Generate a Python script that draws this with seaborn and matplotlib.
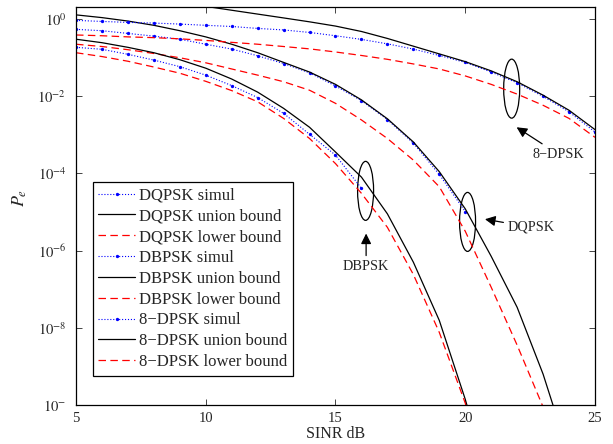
import matplotlib
matplotlib.use("Agg")
import matplotlib.pyplot as plt
from matplotlib.patches import Ellipse
from matplotlib.transforms import ScaledTranslation
from matplotlib.ticker import FixedLocator, FixedFormatter, NullLocator
import pandas as pd
import seaborn as sns

sns.set_style("ticks")
plt.rcParams["font.family"] = ["Liberation Serif", "DejaVu Serif"]
plt.rcParams["mathtext.fontset"] = "stix"

# ---- SINR grids (dB) ----
sinr_8dpsk = list(range(5, 26))
sinr_dqpsk_sim = list(range(5, 21))
sinr_dqpsk_bound = list(range(5, 25))
sinr_dbpsk_sim = list(range(5, 17))
sinr_dbpsk_bound = list(range(5, 22))

# ---- symbol error probabilities ----
pe_dqpsk_sim = [0.531, 0.490, 0.417, 0.355, 0.295, 0.219, 0.164, 0.110,
                0.0692, 0.0398, 0.0182, 0.00759, 0.00245, 6.03e-4, 9.33e-5,
                1.02e-5]
pe_dqpsk_union = [1.26, 1.07, 0.871, 0.676, 0.490, 0.339, 0.219, 0.132,
                  0.0741, 0.0417, 0.0200, 0.00794, 0.00257, 6.46e-4, 1.10e-4,
                  1.20e-5, 7.08e-7, 3.39e-8, 6.31e-10, 5.0e-12]
pe_dqpsk_lower = [0.219, 0.191, 0.158, 0.126, 0.0977, 0.0724, 0.0501, 0.0347,
                  0.0234, 0.0141, 0.00646, 0.0024, 7.94e-4, 2.19e-4, 4.47e-5,
                  3.16e-6, 1.12e-7, 3.55e-9, 8.9e-11, 1.0e-12]

pe_dbpsk_sim = [0.182, 0.162, 0.120, 0.0851, 0.0575, 0.0347, 0.0186, 0.00912,
                0.00355, 0.00102, 2.95e-4, 4.07e-5]
pe_dbpsk_union = [0.295, 0.240, 0.182, 0.132, 0.0871, 0.0525, 0.0275, 0.0126,
                  0.00479, 0.00155, 3.55e-4, 7.94e-5, 8.9e-6, 5.0e-7, 1.55e-8,
                  1.41e-10, 6.3e-13]
pe_dbpsk_lower = [0.132, 0.105, 0.0794, 0.0562, 0.0389, 0.0240, 0.0138,
                  0.00708, 0.00263, 7.94e-4, 1.78e-4, 3.02e-5, 3.98e-6, 2.4e-7,
                  7.59e-9, 1.12e-10, 5.0e-13]

pe_8dpsk_sim = [0.906, 0.853, 0.804, 0.773, 0.728, 0.676, 0.631, 0.562, 0.513,
                0.442, 0.363, 0.292, 0.224, 0.164, 0.112, 0.0741, 0.0417,
                0.0219, 0.00977, 0.00389, 0.00117]
pe_8dpsk_union = [5.6, 4.8, 4.0, 3.3, 2.6, 2.09, 1.66, 1.32, 1.05, 0.832,
                  0.646, 0.468, 0.309, 0.195, 0.123, 0.0776, 0.0447, 0.0234,
                  0.0105, 0.00427, 0.00135]
pe_8dpsk_lower = [0.380, 0.363, 0.339, 0.324, 0.302, 0.275, 0.245, 0.219,
                  0.191, 0.166, 0.138, 0.112, 0.0891, 0.0676, 0.0501, 0.0331,
                  0.0200, 0.0112, 0.00575, 0.00263, 8.51e-4]

series = [
    ("DQPSK simul", sinr_dqpsk_sim, pe_dqpsk_sim, "sim"),
    ("DQPSK union bound", sinr_dqpsk_bound, pe_dqpsk_union, "union"),
    ("DQPSK lower bound", sinr_dqpsk_bound, pe_dqpsk_lower, "lower"),
    ("DBPSK simul", sinr_dbpsk_sim, pe_dbpsk_sim, "sim"),
    ("DBPSK union bound", sinr_dbpsk_bound, pe_dbpsk_union, "union"),
    ("DBPSK lower bound", sinr_dbpsk_bound, pe_dbpsk_lower, "lower"),
    ("8\u2212DPSK simul", sinr_8dpsk, pe_8dpsk_sim, "sim"),
    ("8\u2212DPSK union bound", sinr_8dpsk, pe_8dpsk_union, "union"),
    ("8\u2212DPSK lower bound", sinr_8dpsk, pe_8dpsk_lower, "lower"),
]

styles = {
    "sim": dict(color="blue", linestyle=":", linewidth=0.8, marker="o",
                markersize=2.4, markeredgewidth=0),
    "union": dict(color="black", linestyle="-", linewidth=0.9),
    "lower": dict(color="red", linestyle="--", linewidth=0.9),
}

fig = plt.figure(figsize=(6.13, 4.44), dpi=100)
ax = fig.add_axes([0.124, 0.0878, 0.8466, 0.8971])
ax.set_yscale("log")

handles = []
for label, x, y, kind in series:
    df = pd.DataFrame({"sinr": x, "pe": y})
    sns.lineplot(data=df, x="sinr", y="pe", ax=ax, estimator=None,
                 sort=False, **styles[kind])
    line = ax.lines[-1]
    if kind == "lower":
        line.set_dashes((6, 3.5))
    line.set_label(label)
    handles.append(line)

ax.set_xlim(5, 25)
ax.set_ylim(1e-10, 2.05)

ax.xaxis.set_major_locator(FixedLocator([5, 10, 15, 20, 25]))
ax.xaxis.set_minor_locator(NullLocator())
ax.yaxis.set_major_locator(FixedLocator([1e-10, 1e-8, 1e-6, 1e-4, 1e-2, 1]))
ax.yaxis.set_major_formatter(FixedFormatter(
    [r"$10^{-}$", r"$10^{-8}$", r"$10^{-6}$", r"$10^{-4}$", r"$10^{-2}$",
     r"$10^{0}$"]))
ax.yaxis.set_minor_locator(NullLocator())

ax.tick_params(axis="both", which="major", direction="in", length=4,
               width=0.6, labelsize=10.5, top=True, right=True)
ax.tick_params(axis="y", pad=7)
ax.tick_params(axis="x", pad=5)
for sp in ax.spines.values():
    sp.set_visible(True)
    sp.set_linewidth(0.9)
    sp.set_color("black")

ax.set_xlabel("SINR dB", fontsize=11.5, labelpad=1)
ax.set_ylabel(r"$P_{e}$", fontsize=13)
ax.yaxis.set_label_coords(-0.09, 0.52)

leg = ax.legend(handles=handles, loc="upper left",
                bbox_to_anchor=(0.032, 0.561), borderaxespad=0,
                fontsize=12, handlelength=2.2, handletextpad=0.25,
                labelspacing=0.29, borderpad=0.35, fancybox=False,
                framealpha=1, edgecolor="black")
leg.get_frame().set_linewidth(0.9)

# group markers: ellipses around each family of curves
for cx, cy in [(16.16, 3.5e-5), (20.09, 5.5e-6), (21.79, 1.55e-2)]:
    tr = fig.dpi_scale_trans + ScaledTranslation(cx, cy, ax.transData)
    ax.add_patch(Ellipse((0, 0), width=0.16, height=0.59, transform=tr,
                         fill=False, edgecolor="black", linewidth=0.9))

arrow = dict(arrowstyle="-|>,head_length=0.6,head_width=0.3",
             color="black", linewidth=0.9, shrinkA=1, shrinkB=0)
ax.annotate("DBPSK", xy=(16.18, 2.75e-6), xytext=(16.18, 3.8e-7),
            ha="center", va="center", fontsize=10.3, arrowprops=arrow)
ax.annotate("DQPSK", xy=(20.76, 6.46e-6), xytext=(21.65, 3.98e-6),
            ha="left", va="center", fontsize=10.3, arrowprops=arrow)
ax.annotate("8\u2212DPSK", xy=(21.98, 1.55e-3), xytext=(23.59, 3.09e-4),
            ha="center", va="center", fontsize=10.3, arrowprops=arrow)

fig.savefig("out.png", dpi=100)
